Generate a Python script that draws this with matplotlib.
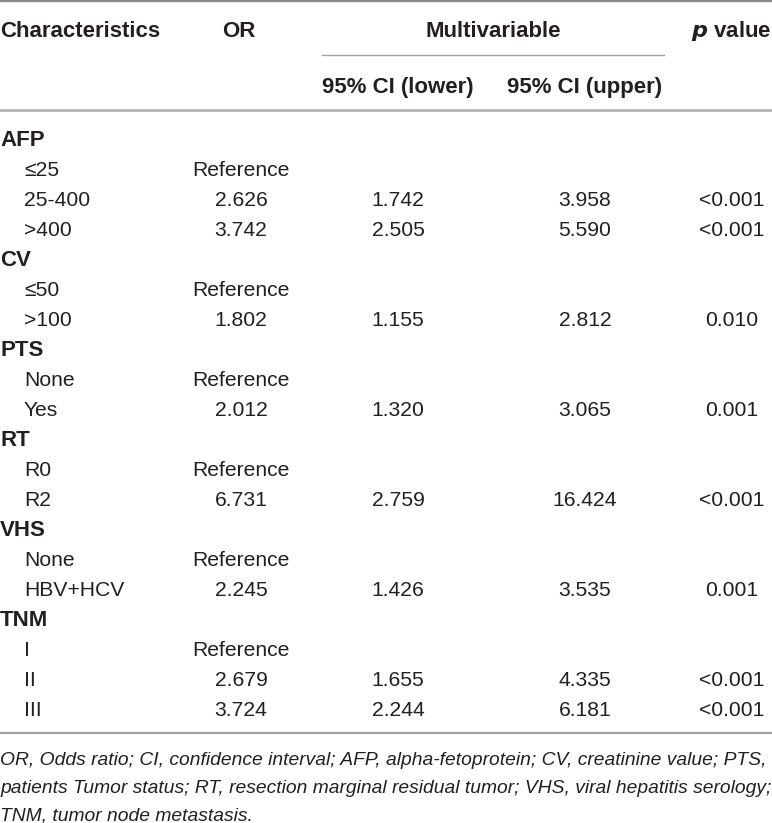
import matplotlib
matplotlib.use('Agg')
import matplotlib.pyplot as plt

# table content
groups = ['AFP', 'CV', 'PTS', 'RT', 'VHS', 'TNM']
levels = [['≤25', '25-400', '>400'],
          ['≤50', '>100'],
          ['None', 'Yes'],
          ['R0', 'R2'],
          ['None', 'HBV+HCV'],
          ['I', 'II', 'III']]
odds_ratio = [['Reference', '2.626', '3.742'],
              ['Reference', '1.802'],
              ['Reference', '2.012'],
              ['Reference', '6.731'],
              ['Reference', '2.245'],
              ['Reference', '2.679', '3.724']]
ci_lower = [['', '1.742', '2.505'],
            ['', '1.155'],
            ['', '1.320'],
            ['', '2.759'],
            ['', '1.426'],
            ['', '1.655', '2.244']]
ci_upper = [['', '3.958', '5.590'],
            ['', '2.812'],
            ['', '3.065'],
            ['', '16.424'],
            ['', '3.535'],
            ['', '4.335', '6.181']]
p_values = [['', '<0.001', '<0.001'],
            ['', '0.010'],
            ['', '0.001'],
            ['', '<0.001'],
            ['', '0.001'],
            ['', '<0.001', '<0.001']]

footnote = ['OR, Odds ratio; CI, confidence interval; AFP, alpha-fetoprotein; CV, creatinine value; PTS,',
            'patients Tumor status; RT, resection marginal residual tumor; VHS, viral hepatitis serology;',
            'TNM, tumor node metastasis.']

W, H = 772, 823
fig = plt.figure(figsize=(W / 100, H / 100), dpi=100)
ax = fig.add_axes([0, 0, 1, 1])
ax.set_xlim(0, W)
ax.set_ylim(H, 0)
ax.axis('off')

plt.rcParams['font.family'] = ['Liberation Sans', 'DejaVu Sans']
fs = 15.2
fs_bold = 16.0
txt = '#231f20'
cap = 7.6  # half cap height in px, text is placed on its baseline

def put(x, y, s, ha='left', bold=False, italic=False, size=None):
    if size is None:
        size = fs_bold if bold else fs
    return ax.text(x, y + cap, s, ha=ha, va='baseline', fontsize=size, color=txt,
                   fontweight='bold' if bold else 'normal',
                   fontstyle='italic' if italic else 'normal')

# column centres
x_or, x_lo, x_up, x_p = 241, 398, 585, 732

# rules
ax.plot([0, W], [1, 1], color='#8a8a8a', lw=1.6)
ax.plot([322, 664], [55, 55], color='#a0a0a0', lw=1.0)
ax.plot([0, W], [110, 110], color='#b4b4b4', lw=2.0)

# header
put(0, 29, 'Characteristics', bold=True)
put(239, 29, 'OR', ha='center', bold=True)
put(493, 29, 'Multivariable', ha='center', bold=True)
ax.text(W - 1, 29 + cap, r'$\bfit{p}$' + ' value', ha='right', va='baseline',
        fontsize=fs_bold, color=txt, fontweight='bold')
put(398, 85, '95% CI (lower)', ha='center', bold=True)
put(585, 85, '95% CI (upper)', ha='center', bold=True)

# body
y = 138
for g, lv, o, lo, up, p in zip(groups, levels, odds_ratio, ci_lower, ci_upper, p_values):
    put(0, y, g, bold=True)
    y += 30
    for i in range(len(lv)):
        put(24, y, lv[i])
        put(x_or, y, o[i], ha='center')
        put(x_lo, y, lo[i], ha='center')
        put(x_up, y, up[i], ha='center')
        put(x_p, y, p[i], ha='center')
        y += 30

ax.plot([0, W], [733, 733], color='#a0a0a0', lw=1.6)

# footnote, shrunk so the first line spans the width like in the source
renderer = fig.canvas.get_renderer()
probe = put(0, 757, footnote[0], italic=True)
wid = probe.get_window_extent(renderer).width
probe.remove()
fs_note = fs * 768 / wid
for k, line in enumerate(footnote):
    put(0, 757 + 28 * k, line, italic=True, size=fs_note)

fig.savefig('out.png', dpi=100)
